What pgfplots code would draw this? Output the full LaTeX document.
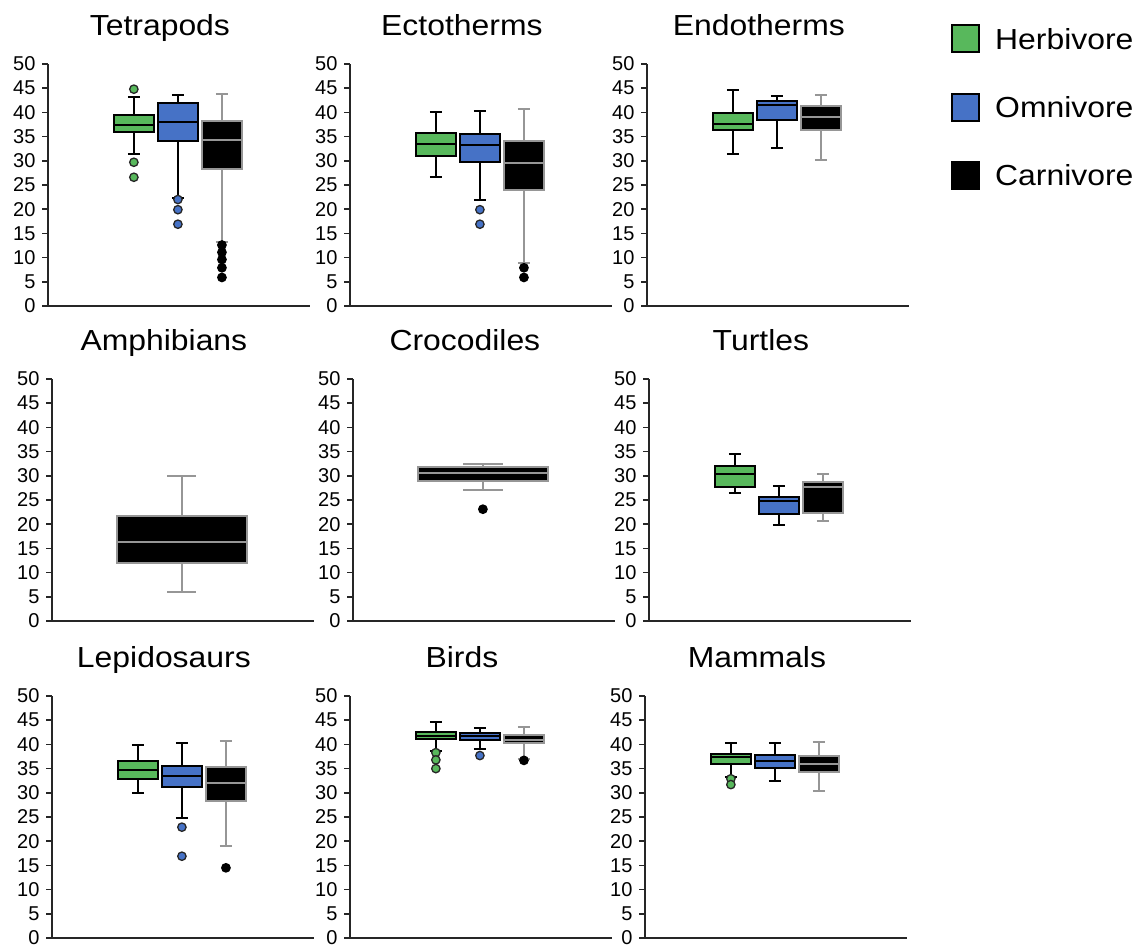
\documentclass[border=0pt]{standalone}
\usepackage{pgfplots}
\pgfplotsset{compat=1.18}
\usepgfplotslibrary{statistics}
\usepackage{fontspec}
\setmainfont{Liberation Sans}
\newfontfamily\widefont[FakeStretch=1.1]{Liberation Sans}
\definecolor{herbG}{RGB}{88,184,92}
\definecolor{omniB}{RGB}{70,114,198}
\definecolor{carnE}{RGB}{150,150,150}
\pgfplotsset{
  panel/.style={
    scale only axis, width=262pt, height=242pt, anchor=south west,
    xmin=-0.95, xmax=5, ymin=0, ymax=50,
    ytick={0,5,...,50}, xtick=\empty,
    axis x line*=bottom, axis y line*=left,
    axis line style={line width=1.8pt, color=black!85, -},
    ytick style={line width=1.5pt, color=black!85},
    tick align=outside, major tick length=6pt,
    yticklabel style={font=\fontsize{20}{21}\selectfont, xshift=-3pt},
    /pgf/number format/assume math mode=true,
    clip=false,
    boxplot/draw direction=y,
    every axis title/.style={at={(0.427,1)}, anchor=base, yshift=29pt, font=\widefont\fontsize{29}{30}\selectfont},
  },
  herb/.style={
    boxplot/draw direction=y,
    boxplot/every box/.style={draw=black, fill=herbG, line width=2pt},
    boxplot/every whisker/.style={draw=black, line width=2pt},
    boxplot/every median/.style={draw=black, line width=2pt},
    mark=*, mark size=4.2pt, mark options={fill=herbG, draw=black!85, line width=1.3pt, solid}},
  omni/.style={
    boxplot/draw direction=y,
    boxplot/every box/.style={draw=black, fill=omniB, line width=2pt},
    boxplot/every whisker/.style={draw=black, line width=2pt},
    boxplot/every median/.style={draw=black, line width=2pt},
    mark=*, mark size=4.2pt, mark options={fill=omniB, draw=black!85, line width=1.3pt, solid}},
  carn/.style={
    boxplot/draw direction=y,
    boxplot/every box/.style={draw=carnE, fill=black, line width=2pt},
    boxplot/every whisker/.style={draw=carnE, line width=2pt},
    boxplot/every median/.style={draw=carnE, line width=2pt},
    mark=*, mark size=4.2pt, mark options={fill=black, draw=black, line width=1.3pt, solid}},
}
\begin{document}
\begin{tikzpicture}
\useasboundingbox (0,0) rectangle (1146pt,-947pt);
% ---------- Row 1 ----------
\begin{axis}[panel, at={(48pt,-306pt)}, title={Tetrapods}]
\addplot[herb, boxplot prepared={draw position=1, lower whisker=31.5, lower quartile=36.0, median=37.3, upper quartile=39.5, upper whisker=43.2, box extend=0.9, whisker extend=0.27}] coordinates {(0,44.8) (0,29.7) (0,26.6)};
\addplot[omni, boxplot prepared={draw position=2, lower whisker=22.4, lower quartile=34.0, median=38.0, upper quartile=42.0, upper whisker=43.5, box extend=0.9, whisker extend=0.27}] coordinates {(0,22.0) (0,19.9) (0,16.9)};
\addplot[carn, boxplot prepared={draw position=3, lower whisker=13.2, lower quartile=28.4, median=34.3, upper quartile=38.3, upper whisker=43.7, box extend=0.9, whisker extend=0.27}] coordinates {(0,12.6) (0,11.1) (0,9.6) (0,7.9) (0,5.9)};
\end{axis}
\begin{axis}[panel, at={(350pt,-306pt)}, title={Ectotherms}]
\addplot[herb, boxplot prepared={draw position=1, lower whisker=26.7, lower quartile=30.9, median=33.5, upper quartile=35.8, upper whisker=40.0, box extend=0.9, whisker extend=0.27}] coordinates {};
\addplot[omni, boxplot prepared={draw position=2, lower whisker=22.0, lower quartile=29.8, median=33.2, upper quartile=35.5, upper whisker=40.2, box extend=0.9, whisker extend=0.27}] coordinates {(0,19.9) (0,16.9)};
\addplot[carn, boxplot prepared={draw position=3, lower whisker=8.8, lower quartile=23.9, median=29.5, upper quartile=34.1, upper whisker=40.8, box extend=0.9, whisker extend=0.27}] coordinates {(0,7.9) (0,5.9)};
\end{axis}
\begin{axis}[panel, at={(647pt,-306pt)}, title={Endotherms}]
\addplot[herb, boxplot prepared={draw position=1, lower whisker=31.5, lower quartile=36.3, median=37.6, upper quartile=39.9, upper whisker=44.7, box extend=0.9, whisker extend=0.27}] coordinates {};
\addplot[omni, boxplot prepared={draw position=2, lower whisker=32.6, lower quartile=38.4, median=41.6, upper quartile=42.3, upper whisker=43.4, box extend=0.9, whisker extend=0.27}] coordinates {};
\addplot[carn, boxplot prepared={draw position=3, lower whisker=30.2, lower quartile=36.3, median=39.1, upper quartile=41.3, upper whisker=43.6, box extend=0.9, whisker extend=0.27}] coordinates {};
\end{axis}
% ---------- Row 2 ----------
\begin{axis}[panel, at={(52pt,-621pt)}, title={Amphibians}]
\addplot[carn, boxplot prepared={draw position=2, lower whisker=6.0, lower quartile=12.0, median=16.3, upper quartile=21.7, upper whisker=30.0, box extend=2.95, whisker extend=0.66}] coordinates {};
\end{axis}
\begin{axis}[panel, at={(353pt,-621pt)}, title={Crocodiles}]
\addplot[carn, boxplot prepared={draw position=2, lower whisker=27.0, lower quartile=29.0, median=30.6, upper quartile=31.9, upper whisker=32.4, box extend=2.95, whisker extend=0.9}] coordinates {(0,23.1)};
\end{axis}
\begin{axis}[panel, at={(649pt,-621pt)}, title={Turtles}]
\addplot[herb, boxplot prepared={draw position=1, lower whisker=26.5, lower quartile=27.6, median=30.3, upper quartile=32.1, upper whisker=34.6, box extend=0.9, whisker extend=0.27}] coordinates {};
\addplot[omni, boxplot prepared={draw position=2, lower whisker=19.8, lower quartile=22.2, median=24.7, upper quartile=25.6, upper whisker=27.8, box extend=0.9, whisker extend=0.27}] coordinates {};
\addplot[carn, boxplot prepared={draw position=3, lower whisker=20.7, lower quartile=22.3, median=27.7, upper quartile=28.7, upper whisker=30.3, box extend=0.9, whisker extend=0.27}] coordinates {};
\end{axis}
% ---------- Row 3 ----------
\begin{axis}[panel, at={(52pt,-938pt)}, title={Lepidosaurs}]
\addplot[herb, boxplot prepared={draw position=1, lower whisker=29.9, lower quartile=32.9, median=34.8, upper quartile=36.6, upper whisker=39.9, box extend=0.9, whisker extend=0.27}] coordinates {};
\addplot[omni, boxplot prepared={draw position=2, lower whisker=24.8, lower quartile=31.1, median=33.5, upper quartile=35.5, upper whisker=40.2, box extend=0.9, whisker extend=0.27}] coordinates {(0,22.9) (0,16.9)};
\addplot[carn, boxplot prepared={draw position=3, lower whisker=19.0, lower quartile=28.3, median=32.0, upper quartile=35.3, upper whisker=40.7, box extend=0.9, whisker extend=0.27}] coordinates {(0,14.5)};
\end{axis}
\begin{axis}[panel, at={(350pt,-938pt)}, title={Birds}]
\addplot[herb, boxplot prepared={draw position=1, lower whisker=38.6, lower quartile=41.1, median=41.7, upper quartile=42.6, upper whisker=44.6, box extend=0.9, whisker extend=0.27}] coordinates {(0,38.3) (0,36.8) (0,35.0)};
\addplot[omni, boxplot prepared={draw position=2, lower whisker=39.1, lower quartile=40.9, median=41.7, upper quartile=42.4, upper whisker=43.4, box extend=0.9, whisker extend=0.27}] coordinates {(0,37.7)};
\addplot[carn, boxplot prepared={draw position=3, lower whisker=37.0, lower quartile=40.2, median=40.9, upper quartile=42.0, upper whisker=43.5, box extend=0.9, whisker extend=0.27}] coordinates {(0,36.7)};
\end{axis}
\begin{axis}[panel, at={(645pt,-938pt)}, title={Mammals}]
\addplot[herb, boxplot prepared={draw position=1, lower whisker=33.3, lower quartile=36.0, median=37.3, upper quartile=38.0, upper whisker=40.2, box extend=0.9, whisker extend=0.27}] coordinates {(0,32.9) (0,31.7)};
\addplot[omni, boxplot prepared={draw position=2, lower whisker=32.5, lower quartile=35.1, median=36.5, upper quartile=37.9, upper whisker=40.2, box extend=0.9, whisker extend=0.27}] coordinates {};
\addplot[carn, boxplot prepared={draw position=3, lower whisker=30.3, lower quartile=34.2, median=36.0, upper quartile=37.6, upper whisker=40.4, box extend=0.9, whisker extend=0.27}] coordinates {};
\end{axis}
% ---------- Legend ----------
\node[draw=black, line width=2pt, fill=herbG, minimum size=27pt, inner sep=0pt] at (965.5pt,-39pt) {};
\node[anchor=west, inner sep=0pt, font=\widefont\fontsize{29}{30}\selectfont] at (995pt,-39pt) {Herbivore};
\node[draw=black, line width=2pt, fill=omniB, minimum size=27pt, inner sep=0pt] at (965.5pt,-107.5pt) {};
\node[anchor=west, inner sep=0pt, font=\widefont\fontsize{29}{30}\selectfont] at (995pt,-107.5pt) {Omnivore};
\node[draw=black, line width=2pt, fill=black, minimum size=27pt, inner sep=0pt] at (965.5pt,-175.5pt) {};
\node[anchor=west, inner sep=0pt, font=\widefont\fontsize{29}{30}\selectfont] at (995pt,-175.5pt) {Carnivore};
\end{tikzpicture}
\end{document}
